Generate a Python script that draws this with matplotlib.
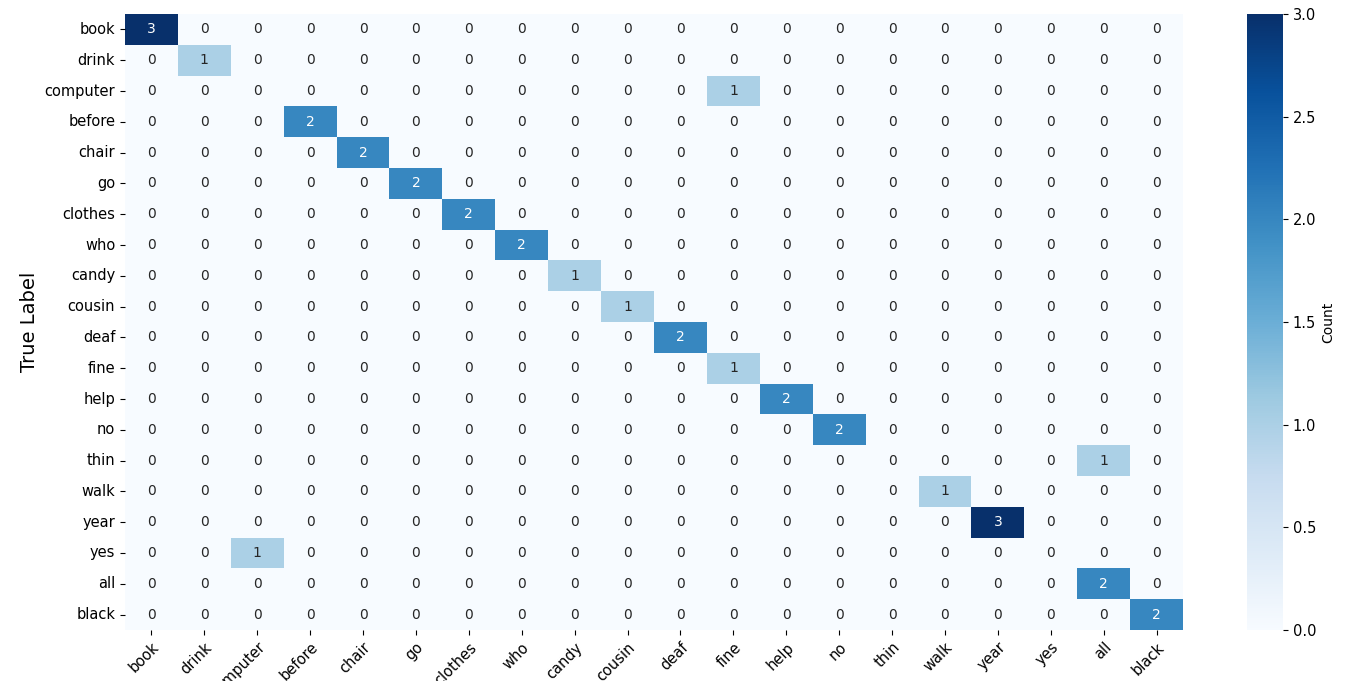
import numpy as np
import matplotlib
matplotlib.use('Agg')
import matplotlib.pyplot as plt
import seaborn as sns

labels = ['book', 'drink', 'computer', 'before', 'chair', 'go', 'clothes', 'who',
          'candy', 'cousin', 'deaf', 'fine', 'help', 'no', 'thin', 'walk',
          'year', 'yes', 'all', 'black']

# (true, predicted, count) for the non-zero cells
true_lbl = ['book', 'drink', 'computer', 'before', 'chair', 'go', 'clothes', 'who',
            'candy', 'cousin', 'deaf', 'fine', 'help', 'no', 'thin', 'walk',
            'year', 'yes', 'all', 'black']
pred_lbl = ['book', 'drink', 'fine', 'before', 'chair', 'go', 'clothes', 'who',
            'candy', 'cousin', 'deaf', 'fine', 'help', 'no', 'all', 'walk',
            'year', 'computer', 'all', 'black']
counts = [3, 1, 1, 2, 2, 2, 2, 2, 1, 1, 2, 1, 2, 2, 1, 1, 3, 1, 2, 2]

cm = np.zeros((len(labels), len(labels)), dtype=int)
for t, p, c in zip(true_lbl, pred_lbl, counts):
    cm[labels.index(t), labels.index(p)] = c

fig = plt.figure(figsize=(13.51, 6.81), dpi=100)
ax = fig.add_axes([0.0925, 0.0749, 0.7832, 0.9045])
cax = fig.add_axes([0.923, 0.0749, 0.0266, 0.9045])

sns.heatmap(cm, annot=True, fmt='d', cmap='Blues', vmin=0, vmax=3,
            xticklabels=labels, yticklabels=labels, ax=ax, cbar_ax=cax,
            annot_kws={'fontsize': 10}, cbar_kws={'label': 'Count'})

ax.set_ylabel('True Label', fontsize=14)
ax.set_xlabel('')
ax.tick_params(axis='both', labelsize=10.5)
plt.setp(ax.get_xticklabels(), rotation=45, ha='right', rotation_mode='anchor')
plt.setp(ax.get_yticklabels(), rotation=0)
cax.tick_params(labelsize=10.5)
cax.yaxis.label.set_size(10)

fig.savefig('out.png', dpi=100)
